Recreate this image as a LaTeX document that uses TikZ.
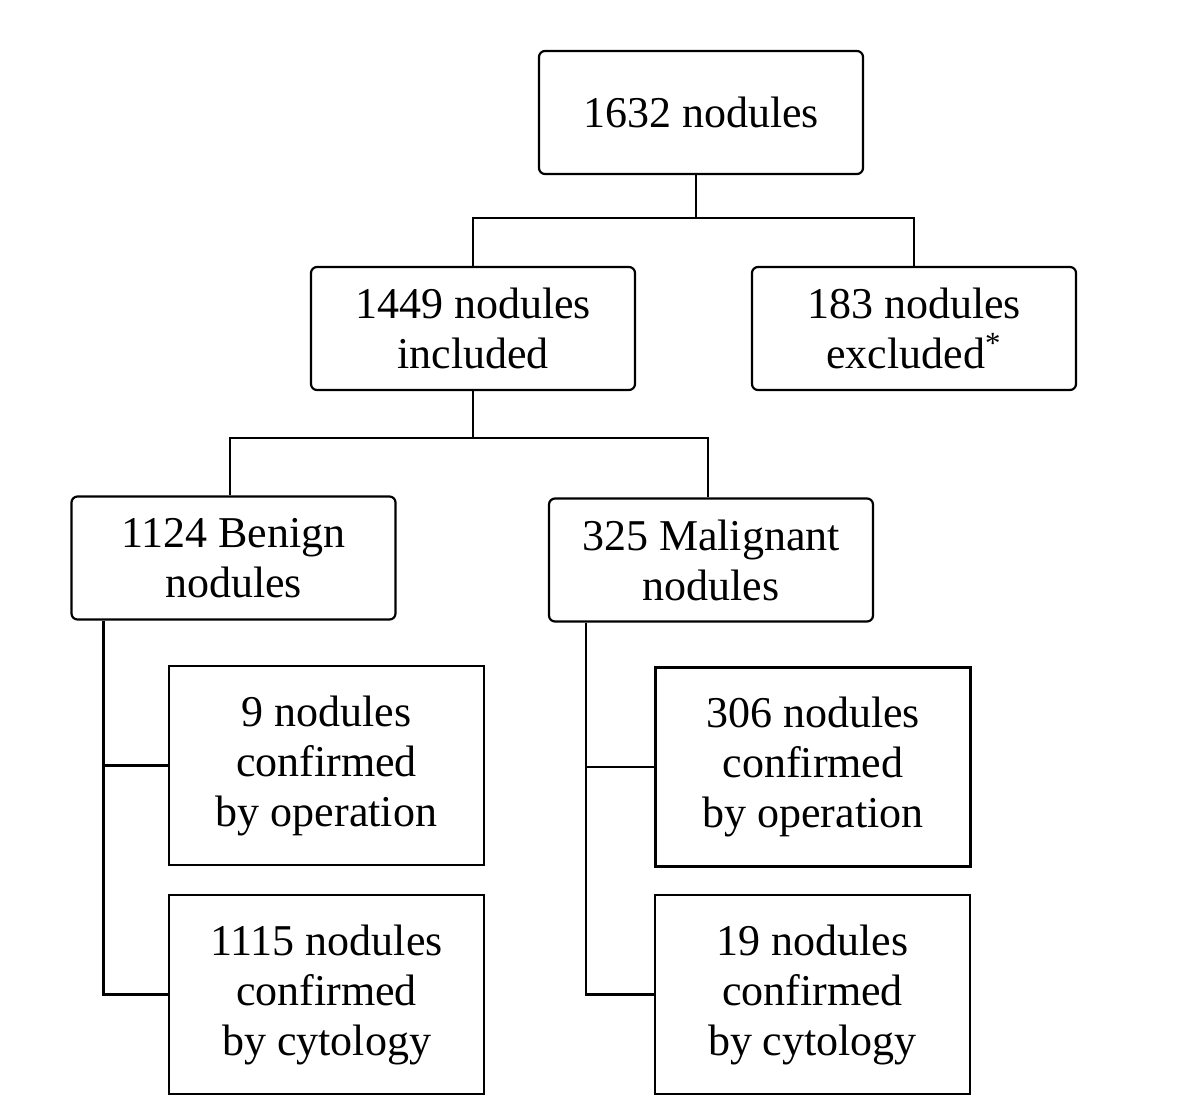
\documentclass[tikz,border=0pt]{standalone}
\usepackage{fontspec}
\setmainfont{Liberation Serif}
\usetikzlibrary{positioning, calc}

\begin{document}
\begin{tikzpicture}[x=0.5pt, y=-0.5pt, line width=1.1pt,
        roundbox/.style={draw, rounded corners=3pt, align=center,
            minimum width=162pt, minimum height=61.5pt, inner sep=0pt,
            font=\fontsize{22}{25}\selectfont},
        squarebox/.style={draw, align=center,
            minimum width=157.5pt, minimum height=99.5pt, inner sep=0pt,
            font=\fontsize{22}{25}\selectfont}]
            \useasboundingbox (0, 0) rectangle (1200, 1114);
            \node[roundbox] (all) at (701, 112.5) {1632 nodules};
            \node[roundbox] (inc) at (473, 328.5) {1449 nodules\\included};
            \node[roundbox] (exc) at (914, 328.5) {183 nodules\\excluded\textsuperscript{*}};
            \node[roundbox] (ben) at (233.5, 558) {1124 Benign\\nodules};
            \node[roundbox] (mal) at (711, 560) {325 Malignant\\nodules};
            \node[squarebox] (benop) at (326.5, 765.5) {9 nodules\\confirmed\\by operation};
            \node[squarebox] (bency) at (326.5, 994.5) {1115 nodules\\confirmed\\by cytology};
            \node[squarebox] (malop) at (813, 767) {306 nodules\\confirmed\\by operation};
            \node[squarebox] (malcy) at (812.5, 994.5) {19 nodules\\confirmed\\by cytology};
            \draw ([xshift=-2.5pt]all.south) -- ++(0, 43) coordinate (split1);
            \draw (inc.north) |- (split1) -| (exc.north);
            \draw (inc.south) -- ++(0, 47) coordinate (split2);
            \draw ([xshift=-1.75pt]ben.north) |- (split2) -| ([xshift=-1.5pt]mal.north);
            \path (ben.south) ++(-130, 0) coordinate (trunk1);
            \draw (trunk1) |- (bency.west);
            \draw (benop.west) -- (benop.west -| trunk1);
            \path (mal.south) ++(-125, 0) coordinate (trunk2);
            \draw (trunk2) |- (malcy.west);
            \draw (malop.west) -- (malop.west -| trunk2);
        \end{tikzpicture}
\end{document}
